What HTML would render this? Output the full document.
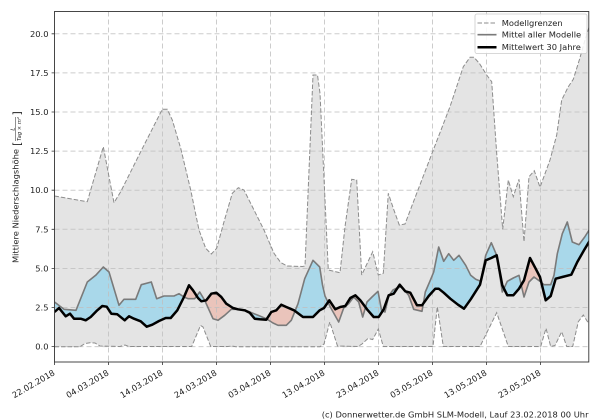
<!DOCTYPE html>
<html><head><meta charset="utf-8"><style>
html,body{margin:0;padding:0;background:#fff;}
svg{display:block;}
text{font-family:"DejaVu Sans","Liberation Sans",sans-serif;fill:#222;}
</style></head><body>
<svg width="600" height="420" viewBox="0 0 600 420" xmlns="http://www.w3.org/2000/svg">
<defs>
<clipPath id="ax"><rect x="54.5" y="11.5" width="534.3" height="350.5"/></clipPath>
<clipPath id="above"><polygon points="54.5,312 59,308 65.7,316.3 70,313.7 74,318.7 80.7,318.7 85.7,320.3 90.7,317 97.3,310.3 102.3,306 106.7,306.7 111.3,313.7 117.3,314.3 124.7,320.3 129,316.3 134,318.7 140.7,321.3 146.7,326.7 152.3,324.7 159,321 165.7,318 170.7,318 177.3,310.3 184,297 189,285.3 193,290.3 198,298 201.3,301.3 206.3,300.3 211.3,293.7 216.3,292.7 221.3,297 226.3,303.7 233,308 238,309.3 244.7,310.3 249.7,312.7 254.7,318.7 259.7,319.3 266.3,319.7 271.3,312 276.3,310.3 281.3,304.7 286.3,307 294,310.3 303,317 313,317 319.7,310.3 324,308 329.3,300.3 335.3,309.3 340.3,307 345.3,306 350.3,298 355.3,295.3 360.3,300.3 367,309.3 373.7,317 378.7,317 383.7,309.3 388.7,295.3 393.7,293.7 399.7,284.7 405.3,291.3 410.3,292.7 417,305.3 422,305.3 428.7,296 435.3,288.7 438.7,288.7 443.7,292.7 450.3,298.7 458,304.7 464,308.7 470.7,299.3 480,284.7 485.7,260.3 491.3,258 496.7,255.3 502.3,285.3 507.3,295.3 513.3,295.3 519,288.7 524,280.3 530,258 535.7,268.7 540,277 545.7,300.3 550.7,296 555.7,278.7 562.3,277 571.3,274.7 577.3,262 584,250.3 590,240.3 590,0 54.5,0"/></clipPath>
<clipPath id="below"><polygon points="54.5,312 59,308 65.7,316.3 70,313.7 74,318.7 80.7,318.7 85.7,320.3 90.7,317 97.3,310.3 102.3,306 106.7,306.7 111.3,313.7 117.3,314.3 124.7,320.3 129,316.3 134,318.7 140.7,321.3 146.7,326.7 152.3,324.7 159,321 165.7,318 170.7,318 177.3,310.3 184,297 189,285.3 193,290.3 198,298 201.3,301.3 206.3,300.3 211.3,293.7 216.3,292.7 221.3,297 226.3,303.7 233,308 238,309.3 244.7,310.3 249.7,312.7 254.7,318.7 259.7,319.3 266.3,319.7 271.3,312 276.3,310.3 281.3,304.7 286.3,307 294,310.3 303,317 313,317 319.7,310.3 324,308 329.3,300.3 335.3,309.3 340.3,307 345.3,306 350.3,298 355.3,295.3 360.3,300.3 367,309.3 373.7,317 378.7,317 383.7,309.3 388.7,295.3 393.7,293.7 399.7,284.7 405.3,291.3 410.3,292.7 417,305.3 422,305.3 428.7,296 435.3,288.7 438.7,288.7 443.7,292.7 450.3,298.7 458,304.7 464,308.7 470.7,299.3 480,284.7 485.7,260.3 491.3,258 496.7,255.3 502.3,285.3 507.3,295.3 513.3,295.3 519,288.7 524,280.3 530,258 535.7,268.7 540,277 545.7,300.3 550.7,296 555.7,278.7 562.3,277 571.3,274.7 577.3,262 584,250.3 590,240.3 590,420 54.5,420"/></clipPath>
</defs>

<g clip-path="url(#ax)">
<!-- envelope fill -->
<polygon fill="#e4e4e4" points="54.5,196 87.3,201.7 103.3,146.7 109,176.7 114,202.7 120.7,191.7 140.7,151.7 162.3,109.3 167.3,109.3 172.3,120 180.7,148.3 190.7,190 199,230 205.7,248.3 211.3,254 216.7,248.3 224,221.7 232.3,193.3 238.3,187.7 244,190 254,210 264,230 274,253.3 280.7,262.5 287.3,266 302.3,266.5 305,266 313,75 317.5,75 320,93.3 328.3,270 340,272.7 345,226.7 351.7,179.3 356.7,180 361.7,275 372.7,251.7 378.3,275 383.3,273.3 388.3,193.3 393.3,208.3 399.3,225 405,224 416.7,193.3 433.3,150 450,106.7 463.3,66.7 470,57.3 474,57.3 479.3,63.3 486.7,75 491.7,81.7 496.7,153.3 502.7,229.3 508.3,180 513.3,196.7 519,179.3 524,241.7 529,176.7 534.3,170.7 540,187.3 550,160 556.7,135 561.7,100 568.3,86.7 573.3,79.3 579.3,60 585,40 590,24 590,323 588.5,323.3 583.3,315 578.3,321.7 572.7,346.5 566.7,346.5 561.7,331.7 555,345.5 550.7,346.5 546,328.3 540.7,346.5 508.3,346.5 496.7,312.7 480,346.5 443.3,346.5 437.3,306.7 433,346.5 383.3,346.5 378.3,329 372.7,339.5 368,338.5 362,344 358,346.5 337.5,346 329.8,322 324,344 320,346.7 236,346.7 232,346 228,346.5 210.7,346.5 203,327 200.5,325.5 191.7,346.5 129,346.5 125,345 120,346.5 100,346 95,343 90,342.7 85,343.5 80,346.7 54.5,346.7"/>

<!-- between mean & 30yr -->
<polygon id="btw" fill="#a9d8ea" clip-path="url(#above)" fill-rule="evenodd" points="54.5,302 64,309.3 76,310.3 87.3,282 95.7,275.3 103.3,267 109,272 119,305.3 124,299.3 135.7,299.3 141.3,284.7 151.3,282 156.7,298.7 164,296 174,296 179,293.7 184,297 188,298.7 194.7,298.7 199.7,292 204.7,300.3 213,318.7 218,320.3 224.7,315.3 231.3,309.3 238,309.3 248,311.3 258,315.3 266.3,318.7 273,323 278,325.3 286.3,325.3 291.3,320.3 298,303.7 304.7,278.7 313,260.3 319.7,267 322.5,285 325,296 330.3,307 338.7,322 343.7,308 348.7,303.7 353.7,297 358.7,302 362.7,317 367,302 372,297 378,291.3 381.5,310 385,312 388.7,296 393,290 397,288 401,287 405,291 408.7,295.3 413.7,309.3 422,311.3 425.3,292 430.3,280.3 433.7,272 438.7,247 443.7,261.3 448.7,253.7 453.7,260.3 459,255.3 465.7,265.3 470.7,275.3 475.7,279.3 480.7,281.3 485.7,255.3 491.3,242.7 496.7,255.3 502.3,292 507.3,281.3 513.3,278 519,275.3 524,297 529,282 534,277 540,281.3 544,284.7 550.7,284.7 554,275.3 557.3,253.7 562.3,233.7 567.3,222 572.3,242 579,244.7 584.7,237 590,228.7 590,240.3 584,250.3 577.3,262 571.3,274.7 562.3,277 555.7,278.7 550.7,296 545.7,300.3 540,277 535.7,268.7 530,258 524,280.3 519,288.7 513.3,295.3 507.3,295.3 502.3,285.3 496.7,255.3 491.3,258 485.7,260.3 480,284.7 470.7,299.3 464,308.7 458,304.7 450.3,298.7 443.7,292.7 438.7,288.7 435.3,288.7 428.7,296 422,305.3 417,305.3 410.3,292.7 405.3,291.3 399.7,284.7 393.7,293.7 388.7,295.3 383.7,309.3 378.7,317 373.7,317 367,309.3 360.3,300.3 355.3,295.3 350.3,298 345.3,306 340.3,307 335.3,309.3 329.3,300.3 324,308 319.7,310.3 313,317 303,317 294,310.3 286.3,307 281.3,304.7 276.3,310.3 271.3,312 266.3,319.7 259.7,319.3 254.7,318.7 249.7,312.7 244.7,310.3 238,309.3 233,308 226.3,303.7 221.3,297 216.3,292.7 211.3,293.7 206.3,300.3 201.3,301.3 198,298 193,290.3 189,285.3 184,297 177.3,310.3 170.7,318 165.7,318 159,321 152.3,324.7 146.7,326.7 140.7,321.3 134,318.7 129,316.3 124.7,320.3 117.3,314.3 111.3,313.7 106.7,306.7 102.3,306 97.3,310.3 90.7,317 85.7,320.3 80.7,318.7 74,318.7 70,313.7 65.7,316.3 59,308 54.5,312"/>
<use href="#btw" fill="#eac4bb" clip-path="url(#below)"/>
<g clip-path="url(#below)"><polygon fill="#eac4bb" fill-rule="evenodd" points="54.5,302 64,309.3 76,310.3 87.3,282 95.7,275.3 103.3,267 109,272 119,305.3 124,299.3 135.7,299.3 141.3,284.7 151.3,282 156.7,298.7 164,296 174,296 179,293.7 184,297 188,298.7 194.7,298.7 199.7,292 204.7,300.3 213,318.7 218,320.3 224.7,315.3 231.3,309.3 238,309.3 248,311.3 258,315.3 266.3,318.7 273,323 278,325.3 286.3,325.3 291.3,320.3 298,303.7 304.7,278.7 313,260.3 319.7,267 322.5,285 325,296 330.3,307 338.7,322 343.7,308 348.7,303.7 353.7,297 358.7,302 362.7,317 367,302 372,297 378,291.3 381.5,310 385,312 388.7,296 393,290 397,288 401,287 405,291 408.7,295.3 413.7,309.3 422,311.3 425.3,292 430.3,280.3 433.7,272 438.7,247 443.7,261.3 448.7,253.7 453.7,260.3 459,255.3 465.7,265.3 470.7,275.3 475.7,279.3 480.7,281.3 485.7,255.3 491.3,242.7 496.7,255.3 502.3,292 507.3,281.3 513.3,278 519,275.3 524,297 529,282 534,277 540,281.3 544,284.7 550.7,284.7 554,275.3 557.3,253.7 562.3,233.7 567.3,222 572.3,242 579,244.7 584.7,237 590,228.7 590,240.3 584,250.3 577.3,262 571.3,274.7 562.3,277 555.7,278.7 550.7,296 545.7,300.3 540,277 535.7,268.7 530,258 524,280.3 519,288.7 513.3,295.3 507.3,295.3 502.3,285.3 496.7,255.3 491.3,258 485.7,260.3 480,284.7 470.7,299.3 464,308.7 458,304.7 450.3,298.7 443.7,292.7 438.7,288.7 435.3,288.7 428.7,296 422,305.3 417,305.3 410.3,292.7 405.3,291.3 399.7,284.7 393.7,293.7 388.7,295.3 383.7,309.3 378.7,317 373.7,317 367,309.3 360.3,300.3 355.3,295.3 350.3,298 345.3,306 340.3,307 335.3,309.3 329.3,300.3 324,308 319.7,310.3 313,317 303,317 294,310.3 286.3,307 281.3,304.7 276.3,310.3 271.3,312 266.3,319.7 259.7,319.3 254.7,318.7 249.7,312.7 244.7,310.3 238,309.3 233,308 226.3,303.7 221.3,297 216.3,292.7 211.3,293.7 206.3,300.3 201.3,301.3 198,298 193,290.3 189,285.3 184,297 177.3,310.3 170.7,318 165.7,318 159,321 152.3,324.7 146.7,326.7 140.7,321.3 134,318.7 129,316.3 124.7,320.3 117.3,314.3 111.3,313.7 106.7,306.7 102.3,306 97.3,310.3 90.7,317 85.7,320.3 80.7,318.7 74,318.7 70,313.7 65.7,316.3 59,308 54.5,312"/></g>

<!-- grid -->
<g stroke="#bfbfbf" stroke-opacity="0.8" stroke-width="1" stroke-dasharray="5,3" fill="none">
<path d="M54.5 346.6H589M54.5 307.5H589M54.5 268.5H589M54.5 229.3H589M54.5 190.2H589M54.5 151.1H589M54.5 112H589M54.5 72.9H589M54.5 33.8H589"/>
<path d="M108.5 11.5V362M162.5 11.5V362M216.5 11.5V362M270.5 11.5V362M324.5 11.5V362M378.5 11.5V362M432.5 11.5V362M486.5 11.5V362M540.5 11.5V362"/>
</g>

<!-- envelope dashed lines -->
<g stroke="#8c8c8c" stroke-width="1" stroke-dasharray="4.5,2" fill="none">
<polyline points="54.5,196 87.3,201.7 103.3,146.7 109,176.7 114,202.7 120.7,191.7 140.7,151.7 162.3,109.3 167.3,109.3 172.3,120 180.7,148.3 190.7,190 199,230 205.7,248.3 211.3,254 216.7,248.3 224,221.7 232.3,193.3 238.3,187.7 244,190 254,210 264,230 274,253.3 280.7,262.5 287.3,266 302.3,266.5 305,266 313,75 317.5,75 320,93.3 328.3,270 340,272.7 345,226.7 351.7,179.3 356.7,180 361.7,275 372.7,251.7 378.3,275 383.3,273.3 388.3,193.3 393.3,208.3 399.3,225 405,224 416.7,193.3 433.3,150 450,106.7 463.3,66.7 470,57.3 474,57.3 479.3,63.3 486.7,75 491.7,81.7 496.7,153.3 502.7,229.3 508.3,180 513.3,196.7 519,179.3 524,241.7 529,176.7 534.3,170.7 540,187.3 550,160 556.7,135 561.7,100 568.3,86.7 573.3,79.3 579.3,60 585,40 590,24"/>
<polyline points="54.5,346.7 80,346.7 85,343.5 90,342.7 95,343 100,346 120,346.5 125,345 129,346.5 191.7,346.5 200.5,325.5 203,327 210.7,346.5 228,346.5 232,346 236,346.7 320,346.7 324,344 329.8,322 337.5,346 358,346.5 362,344 368,338.5 372.7,339.5 378.3,329 383.3,346.5 433,346.5 437.3,306.7 443.3,346.5 480,346.5 496.7,312.7 508.3,346.5 540.7,346.5 546,328.3 550.7,346.5 555,345.5 561.7,331.7 566.7,346.5 572.7,346.5 578.3,321.7 583.3,315 588.5,323.3 590,323"/>
</g>

<!-- mean of all models -->
<polyline fill="none" stroke="#7a7a7a" stroke-width="1.6" stroke-linejoin="round" points="54.5,302 64,309.3 76,310.3 87.3,282 95.7,275.3 103.3,267 109,272 119,305.3 124,299.3 135.7,299.3 141.3,284.7 151.3,282 156.7,298.7 164,296 174,296 179,293.7 184,297 188,298.7 194.7,298.7 199.7,292 204.7,300.3 213,318.7 218,320.3 224.7,315.3 231.3,309.3 238,309.3 248,311.3 258,315.3 266.3,318.7 273,323 278,325.3 286.3,325.3 291.3,320.3 298,303.7 304.7,278.7 313,260.3 319.7,267 322.5,285 325,296 330.3,307 338.7,322 343.7,308 348.7,303.7 353.7,297 358.7,302 362.7,317 367,302 372,297 378,291.3 381.5,310 385,312 388.7,296 393,290 397,288 401,287 405,291 408.7,295.3 413.7,309.3 422,311.3 425.3,292 430.3,280.3 433.7,272 438.7,247 443.7,261.3 448.7,253.7 453.7,260.3 459,255.3 465.7,265.3 470.7,275.3 475.7,279.3 480.7,281.3 485.7,255.3 491.3,242.7 496.7,255.3 502.3,292 507.3,281.3 513.3,278 519,275.3 524,297 529,282 534,277 540,281.3 544,284.7 550.7,284.7 554,275.3 557.3,253.7 562.3,233.7 567.3,222 572.3,242 579,244.7 584.7,237 590,228.7"/>

<!-- 30 year mean -->
<polyline fill="none" stroke="#000" stroke-width="2.5" stroke-linejoin="round" points="54.5,312 59,308 65.7,316.3 70,313.7 74,318.7 80.7,318.7 85.7,320.3 90.7,317 97.3,310.3 102.3,306 106.7,306.7 111.3,313.7 117.3,314.3 124.7,320.3 129,316.3 134,318.7 140.7,321.3 146.7,326.7 152.3,324.7 159,321 165.7,318 170.7,318 177.3,310.3 184,297 189,285.3 193,290.3 198,298 201.3,301.3 206.3,300.3 211.3,293.7 216.3,292.7 221.3,297 226.3,303.7 233,308 238,309.3 244.7,310.3 249.7,312.7 254.7,318.7 259.7,319.3 266.3,319.7 271.3,312 276.3,310.3 281.3,304.7 286.3,307 294,310.3 303,317 313,317 319.7,310.3 324,308 329.3,300.3 335.3,309.3 340.3,307 345.3,306 350.3,298 355.3,295.3 360.3,300.3 367,309.3 373.7,317 378.7,317 383.7,309.3 388.7,295.3 393.7,293.7 399.7,284.7 405.3,291.3 410.3,292.7 417,305.3 422,305.3 428.7,296 435.3,288.7 438.7,288.7 443.7,292.7 450.3,298.7 458,304.7 464,308.7 470.7,299.3 480,284.7 485.7,260.3 491.3,258 496.7,255.3 502.3,285.3 507.3,295.3 513.3,295.3 519,288.7 524,280.3 530,258 535.7,268.7 540,277 545.7,300.3 550.7,296 555.7,278.7 562.3,277 571.3,274.7 577.3,262 584,250.3 590,240.3"/>
</g>

<!-- spines -->
<rect x="54.5" y="11.5" width="534.3" height="350.5" fill="none" stroke="#333" stroke-width="0.9"/>

<!-- ticks -->
<g stroke="#333" stroke-width="0.8">
<path d="M51.6 346.6H54.5M51.6 307.5H54.5M51.6 268.5H54.5M51.6 229.3H54.5M51.6 190.2H54.5M51.6 151.1H54.5M51.6 112H54.5M51.6 72.9H54.5M51.6 33.8H54.5"/>
<path d="M54.5 362V365M108.5 362V365M162.5 362V365M216.5 362V365M270.5 362V365M324.5 362V365M378.5 362V365M432.5 362V365M486.5 362V365M540.5 362V365"/>
</g>

<!-- y tick labels -->
<g font-size="8.33" text-anchor="end">
<text x="48.5" y="349.6">0.0</text>
<text x="48.5" y="310.5">2.5</text>
<text x="48.5" y="271.5">5.0</text>
<text x="48.5" y="232.3">7.5</text>
<text x="48.5" y="193.2">10.0</text>
<text x="48.5" y="154.1">12.5</text>
<text x="48.5" y="115">15.0</text>
<text x="48.5" y="75.9">17.5</text>
<text x="48.5" y="36.8">20.0</text>
</g>

<!-- x tick labels -->
<g font-size="8.33" text-anchor="end">
<text x="55.5" y="374.5" transform="rotate(-30 55.5 374.5)">22.02.2018</text>
<text x="109.5" y="374.5" transform="rotate(-30 109.5 374.5)">04.03.2018</text>
<text x="163.5" y="374.5" transform="rotate(-30 163.5 374.5)">14.03.2018</text>
<text x="217.5" y="374.5" transform="rotate(-30 217.5 374.5)">24.03.2018</text>
<text x="271.5" y="374.5" transform="rotate(-30 271.5 374.5)">03.04.2018</text>
<text x="325.5" y="374.5" transform="rotate(-30 325.5 374.5)">13.04.2018</text>
<text x="379.5" y="374.5" transform="rotate(-30 379.5 374.5)">23.04.2018</text>
<text x="433.5" y="374.5" transform="rotate(-30 433.5 374.5)">03.05.2018</text>
<text x="487.5" y="374.5" transform="rotate(-30 487.5 374.5)">13.05.2018</text>
<text x="541.5" y="374.5" transform="rotate(-30 541.5 374.5)">23.05.2018</text>
</g>

<!-- y axis label -->
<g transform="translate(18.3 263) rotate(-90)">
<text x="0" y="0" font-size="8.33">Mittlere Niederschlagshöhe</text>
<text x="117" y="2" font-size="11">[</text>
<text x="134" y="-4" font-size="5.6" font-style="italic" text-anchor="middle">L</text>
<line x1="122" y1="-2.8" x2="146" y2="-2.8" stroke="#222" stroke-width="0.5"/>
<text x="134" y="2.6" font-size="5.2" font-style="italic" text-anchor="middle">Tag × m²</text>
<text x="147.5" y="2" font-size="11">]</text>
</g>

<!-- legend -->
<rect x="475" y="14" width="112" height="39.5" rx="2" ry="2" fill="#fff" fill-opacity="0.85" stroke="#cccccc" stroke-width="0.8"/>
<line x1="477.5" y1="23" x2="496.5" y2="23" stroke="#8c8c8c" stroke-width="1" stroke-dasharray="4.5,2"/>
<line x1="477.5" y1="34.7" x2="496.5" y2="34.7" stroke="#7a7a7a" stroke-width="1.6"/>
<line x1="477.5" y1="47.3" x2="496.5" y2="47.3" stroke="#000" stroke-width="2.5"/>
<g font-size="8.33">
<text x="501.7" y="25.9">Modellgrenzen</text>
<text x="501.7" y="37.6">Mittel aller Modelle</text>
<text x="501.7" y="50.2">Mittelwert 30 Jahre</text>
</g>

<!-- credit -->
<text x="588.5" y="417.5" font-size="8.33" text-anchor="end">(c) Donnerwetter.de GmbH SLM-Modell, Lauf 23.02.2018 00 Uhr</text>
</svg>
</body></html>
